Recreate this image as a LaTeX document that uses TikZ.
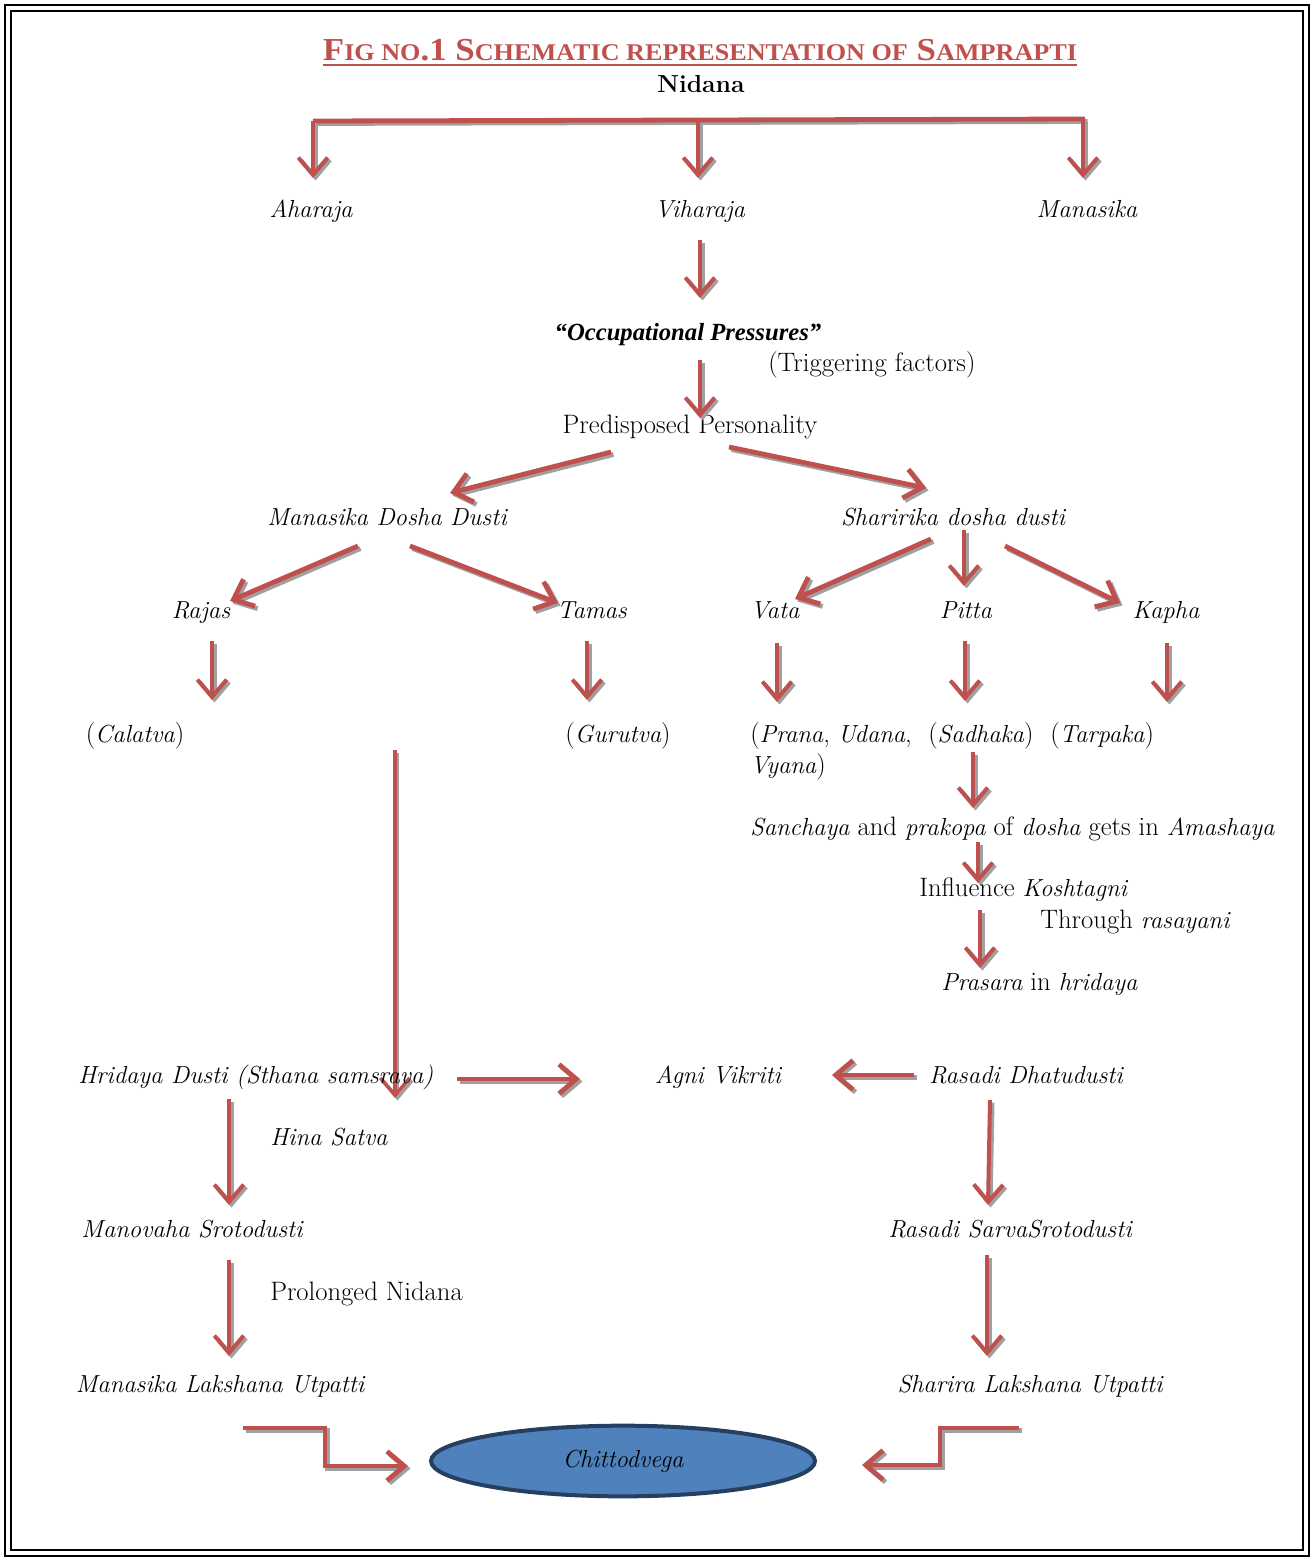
\documentclass[tikz,border=0pt]{standalone}
\usepackage{fontspec}
\newfontfamily\titlefont{Liberation Serif}
\usetikzlibrary{arrows.meta,shapes.geometric}
\definecolor{arrred}{HTML}{C0504D}
\definecolor{shad}{HTML}{A0A0A0}
\definecolor{ellfill}{HTML}{4F81BD}
\definecolor{elldraw}{HTML}{243F60}
\newcommand\ii[1]{{\fontsize{18.5}{21}\selectfont\itshape #1}}
\tikzset{
  lbl/.style={font=\fontsize{18.5}{21}\selectfont\itshape, inner sep=0pt, anchor=base},
  lbll/.style={lbl, anchor=base west},
  rlbl/.style={font=\fontsize{20}{23}\selectfont, inner sep=0pt, anchor=base},
  rlbll/.style={rlbl, anchor=base west},
  tipa/.tip={Straight Barb[length=13pt,width=22pt]},
  redarr/.style={draw=arrred, line width=3pt, -tipa},
  shadarr/.style={draw=shad, line width=3pt, -tipa},
  redline/.style={draw=arrred, line width=3.6pt},
  shadline/.style={draw=shad, line width=3.6pt},
}
\newcommand\sarr[3][]{%
  \draw[shadarr,#1] ([shift={(2.5,2.5)}]#2) -- ([shift={(2.5,2.5)}]#3);
  \draw[redarr,#1] (#2) -- (#3);}
\begin{document}
\begin{tikzpicture}[x=0.75pt,y=-0.75pt]
\useasboundingbox (0,0) rectangle (1314,1560);
% border
\draw[line width=1.8pt] (5,5) rectangle (1309,1556);
\draw[line width=1pt] (11,11) rectangle (1303,1550);
% title
\node[inner sep=0pt, anchor=base, text=arrred] (title) at (700,60)
 {\scalebox{1.09}[1]{\titlefont\bfseries\fontsize{24}{26}\selectfont F{\fontsize{18}{20}\selectfont IG NO}.1 S{\fontsize{18}{20}\selectfont CHEMATIC REPRESENTATION OF} S{\fontsize{18}{20}\selectfont AMPRAPTI}}};
\draw[arrred, line width=1.6pt] (title.base west) ++(0,5) coordinate (ul1) -- ([yshift=-3.75pt]title.base east) coordinate (ul2);
\node[rlbl, font=\fontsize{18.5}{22}\selectfont\bfseries] (nidana) at (701,92) {Nidana};
% top bracket
\coordinate (b1) at (313,121); \coordinate (b2) at (698,121); \coordinate (b3) at (1083,119);
\coordinate (b1e) at (313,178); \coordinate (b2e) at (698,178); \coordinate (b3e) at (1083,178);
\coordinate (bl) at (313,121); \coordinate (br) at (1085,119);
\draw[shadline] ([shift={(2.5,2.5)}]bl) -- ([shift={(2.5,2.5)}]br);
\draw[redline] (bl) -- (br);
\sarr{b1}{b1e}\sarr{b2}{b2e}\sarr{b3}{b3e}
% row 1
\node[lbl] (ahar) at (311,217) {Aharaja};
\node[lbl] (vihar) at (700,217) {Viharaja};
\node[lbl] (manas) at (1087,217) {Manasika};
\coordinate (a1s) at (700,240); \coordinate (a1e) at (700,298);
\sarr{a1s}{a1e}
\node[lbl, font=\titlefont\fontsize{18.5}{21}\selectfont\bfseries\itshape] (occ) at (688,340) {“Occupational Pressures”};
\node[rlbll] (trig) at (768,371) {(Triggering factors)};
\coordinate (a2s) at (700,360); \coordinate (a2e) at (700,418);
\node[rlbl] (pred) at (690,433) {Predisposed Personality};
\sarr{a2s}{a2e}
\coordinate (a3s) at (611,452); \coordinate (a3e) at (450,493);
\coordinate (a4s) at (729,447); \coordinate (a4e) at (926,488);
\sarr[line width=3.6pt]{a3s}{a3e}\sarr[line width=3.6pt]{a4s}{a4e}
\node[lbl] (mdd) at (387,525) {Manasika Dosha Dusti};
\node[lbl] (sdd) at (953,525) {Sharirika dosha dusti};
\coordinate (a5s) at (358,546); \coordinate (a5e) at (230,601);
\coordinate (a6s) at (410,546); \coordinate (a6e) at (558,603);
\coordinate (a7s) at (931,539); \coordinate (a7e) at (795,599);
\coordinate (a8s) at (964,530); \coordinate (a8e) at (964,586);
\coordinate (a9s) at (1005,546); \coordinate (a9e) at (1120,603);
\sarr[line width=3.6pt]{a5s}{a5e}\sarr[line width=3.6pt]{a6s}{a6e}
\sarr[line width=3.6pt]{a7s}{a7e}\sarr{a8s}{a8e}\sarr[line width=3.6pt]{a9s}{a9e}
\node[lbl] (rajas) at (201,618) {Rajas};
\node[lbl] (tamas) at (592,618) {Tamas};
\node[lbl] (vata) at (775,618) {Vata};
\node[lbl] (pitta) at (966,618) {Pitta};
\node[lbl] (kapha) at (1166,618) {Kapha};
\coordinate (v1s) at (212,641); \coordinate (v1e) at (212,700);
\coordinate (v2s) at (587,641); \coordinate (v2e) at (587,700);
\coordinate (v3s) at (777,643); \coordinate (v3e) at (777,702);
\coordinate (v4s) at (965,641); \coordinate (v4e) at (965,701);
\coordinate (v5s) at (1167,643); \coordinate (v5e) at (1167,702);
\sarr{v1s}{v1e}\sarr{v2s}{v2e}\sarr{v3s}{v3e}\sarr{v4s}{v4e}\sarr{v5s}{v5e}
\node[rlbl] (calatva) at (135,742) {(\ii{Calatva})};
\node[rlbl] (gurutva) at (618,742) {(\ii{Gurutva})};
\node[rlbll] (prana) at (750,742) {(\ii{Prana}, \ii{Udana},};
\node[rlbll] (vyana) at (750,773) {\ii{Vyana})};
\node[rlbll] (sadhaka) at (928,742) {(\ii{Sadhaka})};
\node[rlbll] (tarpaka) at (1050,742) {(\ii{Tarpaka})};
\coordinate (ls) at (395,750); \coordinate (le) at (395,1098);
\sarr[line width=2.6pt]{ls}{le}
\coordinate (p1s) at (973,752); \coordinate (p1e) at (973,808);
\sarr{p1s}{p1e}
\node[rlbll] (sanch) at (750,835) {\ii{Sanchaya} and \ii{prakopa} of \ii{dosha} gets in \ii{Amashaya}};
\coordinate (p2s) at (978,842); \coordinate (p2e) at (978,883);
\sarr{p2s}{p2e}
\node[rlbll] (infl) at (919,896) {Influence \ii{Koshtagni}};
\node[rlbll] (thr) at (1040,928) {Through \ii{rasayani}};
\coordinate (p3s) at (980,910); \coordinate (p3e) at (980,968);
\sarr{p3s}{p3e}
\node[rlbll] (pras) at (941,990) {\ii{Prasara} in \ii{hridaya}};
% row hridaya
\node[lbll] (hrid) at (78,1083) {Hridaya Dusti (Sthana samsrava)};
\node[lbl] (agni) at (718,1083) {Agni Vikriti};
\node[lbl] (rasadi) at (1026,1083) {Rasadi Dhatudusti};
\coordinate (h1s) at (457,1079); \coordinate (h1e) at (580,1079);
\coordinate (h2s) at (914,1075); \coordinate (h2e) at (832,1075);
\sarr[line width=3.6pt]{h1s}{h1e}\sarr[line width=3.6pt]{h2s}{h2e}
\coordinate (m1s) at (229,1099); \coordinate (m1e) at (229,1205);
\coordinate (r1s) at (990,1100); \coordinate (r1e) at (988,1205);
\sarr{m1s}{m1e}\sarr{r1s}{r1e}
\node[lbll] (hina) at (270,1145) {Hina Satva};
\node[lbl] (mano) at (192,1237) {Manovaha Srotodusti};
\node[lbl] (rsarva) at (1010,1237) {Rasadi SarvaSrotodusti};
\coordinate (m2s) at (229,1260); \coordinate (m2e) at (229,1356);
\coordinate (r2s) at (987,1255); \coordinate (r2e) at (987,1356);
\sarr{m2s}{m2e}\sarr{r2s}{r2e}
\node[rlbll] (prol) at (270,1300) {Prolonged Nidana};
\node[lbl] (mlu) at (220,1392) {Manasika Lakshana Utpatti};
\node[lbl] (slu) at (1030,1392) {Sharira Lakshana Utpatti};
% ellipse
\node[ellipse, draw=elldraw, line width=3pt, fill=ellfill, minimum width=288pt, minimum height=53pt, inner sep=0pt, font=\fontsize{18.5}{21}\selectfont\itshape] (chitto) at (623,1461) {Chittodvega};
% elbows
\coordinate (e1a) at (243,1428); \coordinate (e1b) at (325,1428); \coordinate (e1c) at (325,1466); \coordinate (e1d) at (408,1466);
\coordinate (e2a) at (1019,1428); \coordinate (e2b) at (940,1428); \coordinate (e2c) at (940,1465); \coordinate (e2d) at (862,1465);
\draw[shadarr, line width=3.6pt] ([shift={(2.5,2.5)}]e1a) -- ([shift={(2.5,2.5)}]e1b) -- ([shift={(2.5,2.5)}]e1c) -- ([shift={(2.5,2.5)}]e1d);
\draw[redarr, line width=3.6pt] (e1a) -- (e1b) -- (e1c) -- (e1d);
\draw[shadarr, line width=3.6pt] ([shift={(2.5,2.5)}]e2a) -- ([shift={(2.5,2.5)}]e2b) -- ([shift={(2.5,2.5)}]e2c) -- ([shift={(2.5,2.5)}]e2d);
\draw[redarr, line width=3.6pt] (e2a) -- (e2b) -- (e2c) -- (e2d);
\end{tikzpicture}
\end{document}
